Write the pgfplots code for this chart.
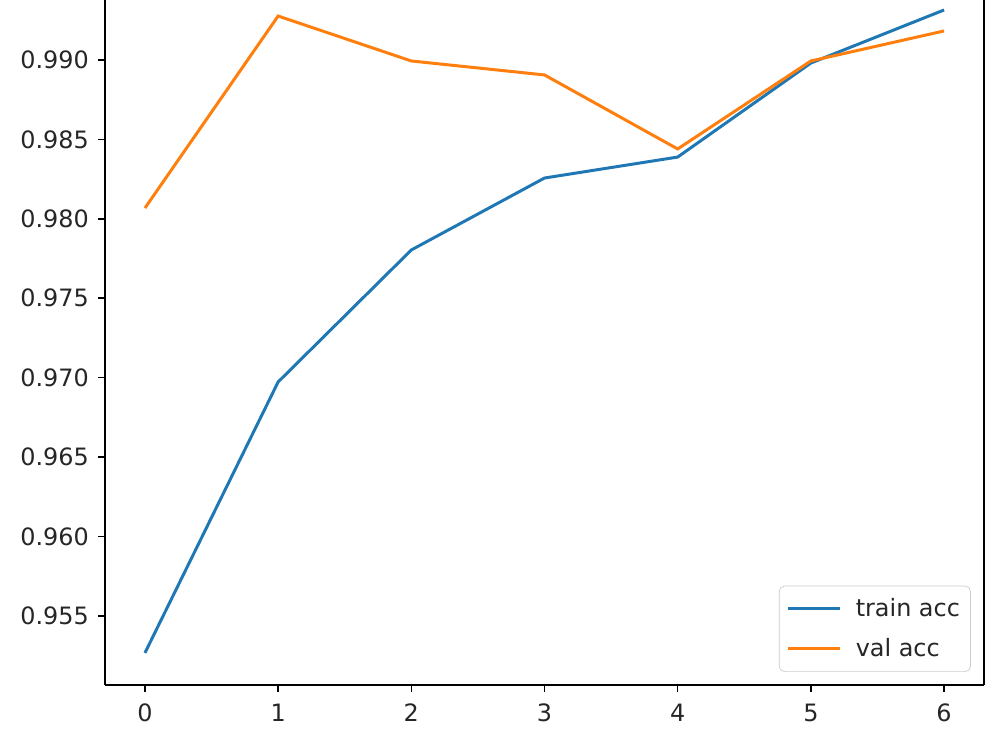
\documentclass[border=0pt]{standalone}
\usepackage{fontspec}
\setmainfont{DejaVu Sans}
\usepackage{pgfplots}
\pgfplotsset{compat=1.18}
\definecolor{tabblue}{HTML}{1F77B4}
\definecolor{taborange}{HTML}{FF7F0E}
\begin{document}
\begin{tikzpicture}
\begin{axis}[
  name=ax,
  scale only axis,
  width=17.58cm, height=13.7cm,
  xmin=-0.3, xmax=6.3,
  ymin=0.95065, ymax=0.99378,
  axis x line*=bottom,
  axis y line*=box,
  xtick pos=bottom, ytick pos=left,
  tick align=outside,
  major tick length=0.14cm,
  tick style={black, line width=0.9pt},
  axis line style={black, line width=0.9pt},
  xtick={0,1,2,3,4,5,6},
  ytick={0.955,0.960,0.965,0.970,0.975,0.980,0.985,0.990},
  yticklabel style={/pgf/number format/fixed, /pgf/number format/fixed zerofill, /pgf/number format/precision=3, xshift=-0.06cm},
  xticklabel style={yshift=-0.12cm},
  /pgf/number format/assume math mode=true,
  scaled y ticks=false,
  tick label style={font=\fontsize{13.6}{16}\selectfont, text=black!85},
  legend style={at={(rel axis cs:0.985,0.019)}, anchor=south east, draw=black!20, rounded corners=3pt, fill=white, font=\fontsize{13.6}{16}\selectfont, text=black!85, inner xsep=4pt, inner ysep=5pt, row sep=7pt,
    /tikz/every odd column/.append style={column sep=0.22cm}},
  legend cell align=left,
  legend image code/.code={\draw[#1, line width=1.7pt] (0cm,0cm) -- (1.04cm,0cm);},
]
\addplot[tabblue, line width=1.7pt] coordinates {
 (0,0.95267) (1,0.96973) (2,0.97804) (3,0.98257) (4,0.98389) (5,0.98981) (6,0.99315)};
\addlegendentry{train acc}
\addplot[taborange, line width=1.7pt] coordinates {
 (0,0.98068) (1,0.99277) (2,0.98994) (3,0.98906) (4,0.98440) (5,0.98994) (6,0.99183)};
\addlegendentry{val acc}
\end{axis}
\pgfresetboundingbox
\path ([shift={(-2.1cm,-1.3cm)}]ax.south west) rectangle ([shift={(0.32cm,0cm)}]ax.north east);
\end{tikzpicture}
\end{document}
